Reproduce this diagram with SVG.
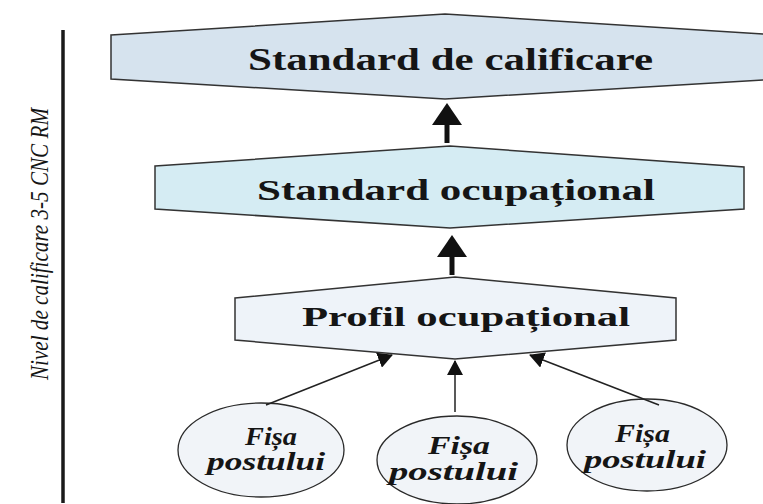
<svg xmlns="http://www.w3.org/2000/svg" width="763" height="504" viewBox="0 0 763 504">
<style>
.hex{stroke:#333;stroke-width:1.5;stroke-linejoin:miter}
.ttl{font-family:Liberation Serif,Tinos,Times New Roman,Times,serif;font-weight:700;fill:#151515}
.ell{fill:#f1f4f8;stroke:#2a2a2a;stroke-width:1.3}
.it{font-family:Liberation Serif,Tinos,Times New Roman,Times,serif;font-weight:700;font-style:italic;fill:#151515;font-size:25px}
.side{font-family:Liberation Serif,Tinos,Times New Roman,Times,serif;font-style:italic;fill:#151515;font-size:25px}
.thick{stroke:#111;stroke-width:5;fill:none}
.thin{stroke:#222;stroke-width:1.5;fill:none}
</style>
<defs>
<marker id="big" viewBox="0 0 22 30" refX="17" refY="15" markerWidth="22" markerHeight="30" markerUnits="userSpaceOnUse" orient="auto">
<path d="M0,0 L22,15 L0,30 z" fill="#111"/>
</marker>
<marker id="small" viewBox="0 0 15 16" refX="14" refY="8" markerWidth="15" markerHeight="16" markerUnits="userSpaceOnUse" orient="auto">
<path d="M0,0 L15,8 L0,16 z" fill="#111"/>
</marker>
</defs>
<rect width="763" height="504" fill="#ffffff"/>
<g id="axis">
<line x1="63" y1="30" x2="63" y2="503" stroke="#1a1a1a" stroke-width="3.5"/>
<text class="side" transform="translate(48,244) rotate(-90)" text-anchor="middle" textLength="272" lengthAdjust="spacingAndGlyphs">Nivel de calificare 3-5 CNC RM</text>
</g>
<g id="standard-calificare">
<polygon class="hex" points="111,35 445,14 779,35 779,79 445,99 111,79" fill="#d6e3ee"/>
<text class="ttl" x="248" y="70" font-size="31" textLength="405" lengthAdjust="spacingAndGlyphs">Standard de calificare</text>
</g>
<g id="standard-ocupational">
<polygon class="hex" points="155,166 450,146 744,167 744,209 450,228 155,209" fill="#d5ecf3"/>
<text class="ttl" x="257" y="200" font-size="29" textLength="398" lengthAdjust="spacingAndGlyphs">Standard ocupațional</text>
</g>
<g id="profil-ocupational">
<polygon class="hex" points="235,298 455,277 676,298 676,340 455,359 235,340" fill="#eef3f9"/>
<text class="ttl" x="302" y="326" font-size="28" textLength="328" lengthAdjust="spacingAndGlyphs">Profil ocupațional</text>
</g>
<g id="fisa-1">
<ellipse class="ell" cx="261" cy="450" rx="83" ry="47"/>
<text class="it" x="245" y="445" textLength="52" lengthAdjust="spacingAndGlyphs">Fișa</text>
<text class="it" x="207" y="470" textLength="118" lengthAdjust="spacingAndGlyphs">postului</text>
</g>
<g id="fisa-2">
<ellipse class="ell" cx="457" cy="460" rx="80" ry="44"/>
<text class="it" x="428" y="454" textLength="62" lengthAdjust="spacingAndGlyphs">Fișa</text>
<text class="it" x="389" y="480" textLength="129" lengthAdjust="spacingAndGlyphs">postului</text>
</g>
<g id="fisa-3">
<ellipse class="ell" cx="647" cy="445" rx="80" ry="46"/>
<text class="it" x="615" y="442" textLength="55" lengthAdjust="spacingAndGlyphs">Fișa</text>
<text class="it" x="584" y="468" textLength="122" lengthAdjust="spacingAndGlyphs">postului</text>
</g>
<g id="connectors">
<line class="thick" x1="447" y1="143" x2="447" y2="108" marker-end="url(#big)"/>
<line class="thick" x1="452" y1="275" x2="452" y2="240" marker-end="url(#big)"/>
<line class="thin" x1="266" y1="405" x2="392" y2="355" marker-end="url(#small)"/>
<line class="thin" x1="455" y1="412" x2="455" y2="361" marker-end="url(#small)"/>
<line class="thin" x1="659" y1="405" x2="530" y2="355" marker-end="url(#small)"/>
</g>
</svg>
